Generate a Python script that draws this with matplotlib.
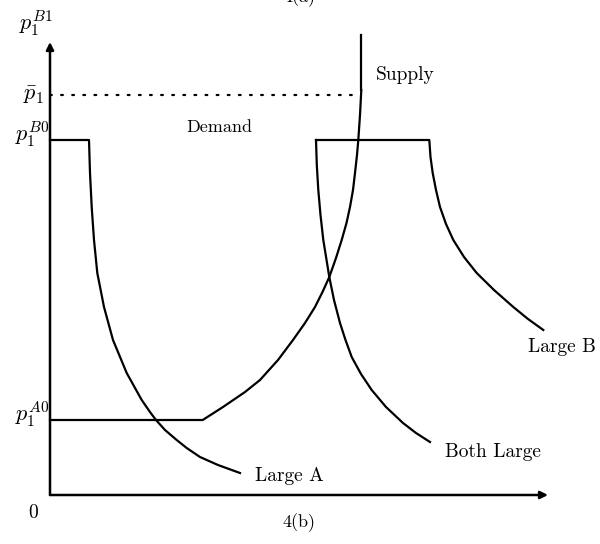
import numpy as np
import matplotlib
matplotlib.use("Agg")
import matplotlib.pyplot as plt

plt.rcParams["mathtext.fontset"] = "cm"
plt.rcParams["font.family"] = ["cmr10", "DejaVu Serif"]
plt.rcParams["axes.unicode_minus"] = False

# price levels on the vertical axis
p_A0 = 75
p_B0 = 355
p_bar = 400

# demand curves (quantity, price)
large_a_x = [0, 39, 40, 41.7, 44, 47.3, 54, 63, 76.7, 91.7, 100.7, 106,
             115, 126.7, 136.7, 150, 168, 190]
large_a_y = [p_B0, 355, 322, 288, 255, 222, 188, 155, 122, 95, 82, 75,
             65, 55, 47, 38, 30, 22]

both_x = [266, 266.8, 268.3, 270.5, 273.3, 279.3, 284, 290, 295.5, 301.7,
          311, 321.7, 336, 353, 366, 380]
both_y = [355, 330, 305, 280, 255, 218, 195, 172, 155, 138, 121, 105,
          88, 72, 62, 53]

large_b_x = [266, 379.3, 380.5, 382.7, 386, 390, 396, 403.3, 414, 426.7,
             444, 463.3, 478, 493.3]
large_b_y = [p_B0, 355, 338, 322, 305, 288, 271, 255, 238, 222, 205, 188,
             176, 165]

# supply curve
supply_x = [0, 152.7, 173, 195, 210, 228, 243, 255, 265, 272.5, 279.3,
            286, 291.7, 296.5, 300, 303, 305, 307, 308.3, 310, 311.3]
supply_y = [p_A0, 75, 88, 103, 115, 135, 155, 172, 188, 203, 218, 237,
            255, 272, 288, 305, 322, 340, 355, 380, 405]
supply_top_x = [311, 311]
supply_top_y = [405, 460]

x_end = 498
y_end = 453

fig = plt.figure(figsize=(6.0, 5.44), dpi=100)
ax = fig.add_axes([0, 0, 1, 1])
ax.set_xlim(-50, 550)
ax.set_ylim(-49, 495)
ax.axis("off")

lw = 1.6
ax.plot(large_a_x, large_a_y, color="black", lw=lw, solid_joinstyle="round")
ax.plot(both_x, both_y, color="black", lw=lw, solid_joinstyle="round")
ax.plot(large_b_x, large_b_y, color="black", lw=lw, solid_joinstyle="round")
ax.plot(supply_x, supply_y, color="black", lw=lw, solid_joinstyle="round")
ax.plot(supply_top_x, supply_top_y, color="black", lw=lw)

# p bar dotted line
ax.plot([0, 306], [p_bar, p_bar], color="black", lw=1.6,
        linestyle=(0, (0.8, 4.2)), dash_capstyle="round")

# axes with arrows
ax.annotate("", xy=(x_end, 0), xytext=(0, 0),
            arrowprops=dict(arrowstyle="-|>", color="black", lw=1.8,
                            mutation_scale=11, shrinkA=0, shrinkB=0))
ax.annotate("", xy=(0, y_end), xytext=(0, 0),
            arrowprops=dict(arrowstyle="-|>", color="black", lw=1.8,
                            mutation_scale=11, shrinkA=0, shrinkB=0))

fs = 14
mfs = 16
ax.text(-14, 472, r"$p_1^{B1}$", fontsize=mfs, ha="center", va="center")
ax.text(-5, p_bar, r"$\bar{p}_1$", fontsize=mfs, ha="right", va="center")
ax.text(-1, 361, r"$p_1^{B0}$", fontsize=mfs, ha="right", va="center")
ax.text(-1, 81, r"$p_1^{A0}$", fontsize=mfs, ha="right", va="center")
ax.text(-17, -18, "0", fontsize=fs, ha="center", va="center")
ax.text(249, -28, "4(b)", fontsize=fs - 1, ha="center", va="center")
ax.text(249, 497, "4(a)", fontsize=fs - 1, ha="center", va="center")

ax.text(326, 420, "Supply", fontsize=fs, ha="left", va="center")
ax.text(136, 368, "Demand", fontsize=fs - 1, ha="left", va="center")
ax.text(205, 19, "Large A", fontsize=fs, ha="left", va="center")
ax.text(395, 43, "Both Large", fontsize=fs, ha="left", va="center")
ax.text(478, 148, "Large B", fontsize=fs, ha="left", va="center")

fig.savefig("out.png", dpi=100)
